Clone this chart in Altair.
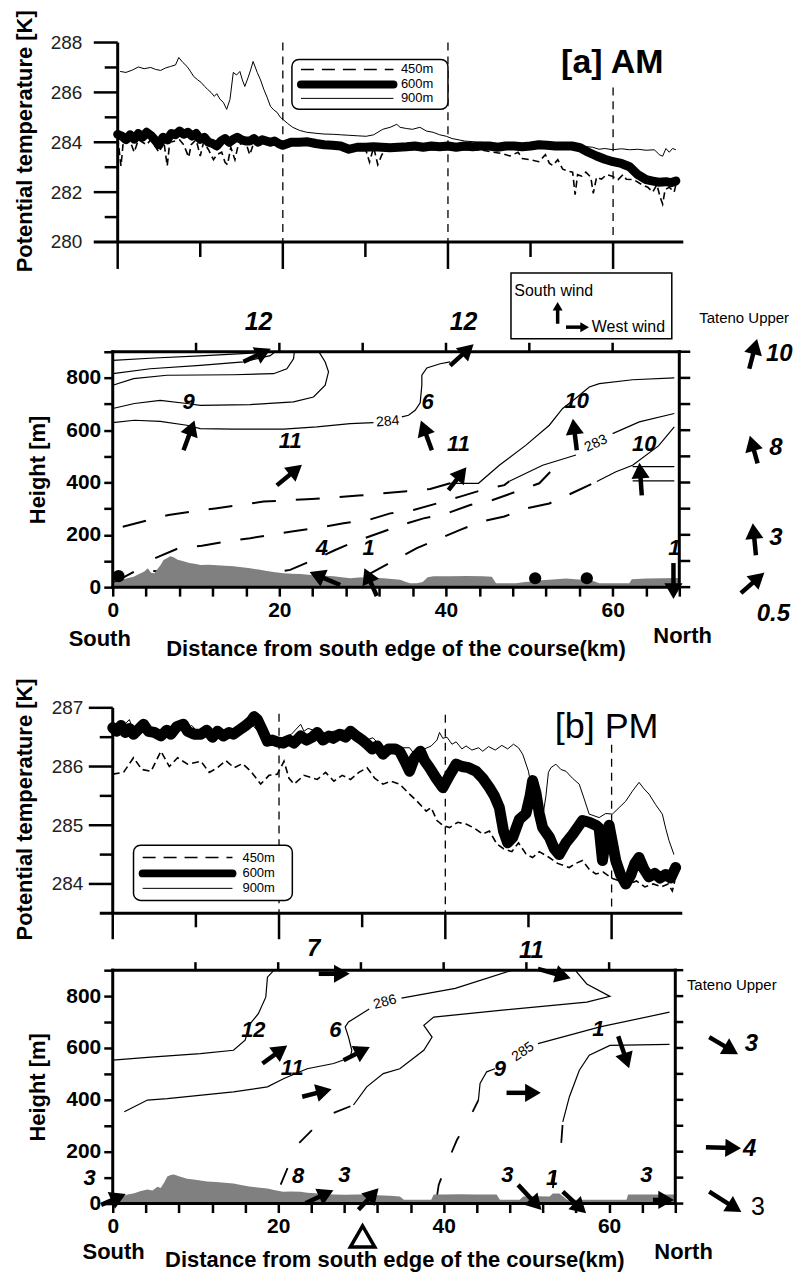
import math
import altair as alt
import pandas as pd

FONT = "Liberation Sans, Arial, Helvetica, sans-serif"

# ---------------- (a) AM : potential temperature along the course (km, K) ----------------
am450 = [(0,284.2),(0.4,283.05),(0.7,284.1),(1.5,284.05),(2.0,283.6),(2.5,284.1),(3.5,283.9),(4.0,284.1),
         (5.0,283.6),(5.6,284.0),(6.0,283.05),(6.3,284.0),(7.5,284.1),(8.0,283.9),(8.6,283.4),(8.9,283.9),
         (9.5,284.1),(10.0,283.45),(10.4,284.0),(11.0,283.7),(11.6,283.3),(12.0,283.5),(12.6,283.6),(13.0,283.2),
         (13.3,283.1),(13.7,283.8),(14.2,283.3),(14.6,283.9),(15.5,284.0),(16.0,283.5),(16.5,284.0),(18,284.0),
         (20,283.9),(22,283.95),(24,283.9),(26,283.85),(28,283.8),(30,283.75),(30.5,283.2),(31.0,283.8),
         (31.5,283.1),(32,283.5),(32.5,283.75),(34,283.75),(36,283.7),(38,283.7),(40,283.7),(42,283.7),
         (44,283.7),(45.5,283.6),(46.5,283.55),(47.5,283.45),(48.5,283.6),(49,283.35),(50,283.3),(51,283.22),
         (51.8,283.5),(52.3,283.15),(52.7,283.07),(53.3,283.3),(53.9,282.92),(54.5,282.85),(55.1,282.8),
         (55.4,281.9),(55.7,282.7),(56.2,282.64),(56.7,282.8),(57.3,282.6),(57.6,281.95),(58.0,282.6),
         (58.6,282.52),(59.2,282.7),(59.9,282.64),(60.6,282.5),(61.2,282.7),(61.6,282.52),(62.5,282.5),
         (63.5,282.3),(64.2,282.2),(64.8,282.0),(65.3,282.3),(65.7,281.8),(66.0,281.52),(66.3,282.1),
         (66.8,282.2),(67.4,282.0),(67.6,282.3)]
am600 = [(0,284.32),(0.5,284.25),(1.0,284.1),(1.5,284.3),(2.0,284.12),(2.5,284.35),(3.0,284.2),(3.5,284.4),
         (4.0,284.28),(4.5,284.1),(5.0,283.9),(5.5,284.2),(6.0,284.1),(6.5,284.35),(7.0,284.3),(7.5,284.45),
         (8.0,284.32),(8.5,284.4),(9.0,284.25),(9.5,284.35),(10.0,284.12),(10.5,284.2),(11.0,284.0),
         (11.5,283.95),(12.0,283.85),(12.5,284.05),(13.0,284.15),(13.5,284.0),(14.0,284.12),(14.5,284.2),
         (15.0,284.1),(15.5,284.05),(16.0,284.05),(16.5,284.15),(17.0,284.0),(17.5,284.1),(18.0,284.05),
         (18.5,284.0),(19.0,284.05),(19.5,283.95),(20.0,283.88),(21,284.0),(22,284.0),(23,284.02),(24,283.95),
         (25,283.9),(26,283.88),(27,283.85),(28,283.72),(29,283.8),(30,283.8),(31,283.82),(32,283.8),
         (33,283.78),(34,283.8),(35,283.82),(36,283.85),(37,283.8),(38,283.85),(39,283.82),(40,283.85),
         (41,283.8),(42,283.85),(43,283.82),(44,283.85),(45,283.85),(46,283.8),(47,283.85),(48,283.85),
         (49,283.82),(50,283.85),(51,283.9),(52,283.88),(53,283.85),(54,283.85),(55,283.85),(56,283.78),
         (57,283.6),(58,283.45),(59,283.32),(60,283.22),(61,283.15),(62,283.02),(63,282.7),(64,282.5),
         (64.7,282.45),(65.5,282.4),(66.4,282.42),(67,282.38),(67.6,282.45)]
am900 = [(0.3,286.84),(1.0,286.8),(1.8,286.9),(2.5,287.02),(3.2,286.95),(4.0,287.0),(4.6,286.92),(5.2,286.88),
         (5.8,286.98),(6.4,287.04),(7.0,287.1),(7.4,287.4),(7.9,287.2),(8.4,287.04),(8.8,286.85),(9.2,286.64),
         (9.7,286.5),(10.1,286.4),(10.5,286.25),(10.9,286.12),(11.3,286.0),(11.7,285.84),(12.0,285.95),
         (12.4,285.72),(12.8,285.6),(13.2,285.32),(13.6,285.72),(14.0,286.8),(14.4,286.7),(14.8,286.84),
         (15.1,286.5),(15.4,286.24),(15.8,286.6),(16.1,286.9),(16.4,287.24),(16.9,286.8),(17.3,286.5),
         (17.7,286.12),(18.1,285.8),(18.5,285.44),(18.9,285.3),(19.3,285.2),(19.7,285.0),(20.0,284.92),
         (20.6,284.75),(21.2,284.6),(22.0,284.48),(22.9,284.4),(24.0,284.36),(25.0,284.33),(26.1,284.32),
         (27.0,284.3),(28.0,284.28),(29.0,284.26),(30.1,284.24),(31.0,284.3),(32.1,284.52),(33.0,284.6),
         (33.8,284.72),(34.2,284.6),(35.0,284.55),(35.7,284.52),(36.6,284.6),(37.4,284.45),(38.2,284.4),
         (39.0,284.3),(39.8,284.24),(40.5,284.15),(42.0,284.05),(44.0,284.0),(46.0,283.95),(48.0,283.95),
         (50.0,283.9),(52.0,283.9),(54.0,283.85),(56.0,283.85),(57.5,283.8),(58.3,283.72),(59.0,283.75),
         (60.0,283.7),(61.0,283.74),(62.0,283.7),(63.0,283.72),(64.0,283.68),(65.0,283.7),(65.6,283.5),
         (66.0,283.44),(66.4,283.75),(66.8,283.6),(67.2,283.75),(67.6,283.7)]

# ---------------- (b) PM : potential temperature along the course (km, K) ----------------
pm450 = [(0,285.87),(1.3,285.9),(2.5,286.15),(3.5,285.95),(4.6,285.92),(5.8,286.26),(6.8,286.0),(7.8,286.15),
         (9.0,286.04),(10.6,286.09),(11.6,285.9),(12.6,285.98),(13.6,286.1),(14.6,285.98),(15.6,286.05),
         (16.6,285.92),(17.8,285.7),(18.8,285.85),(19.8,285.87),(20.6,286.09),(21.2,285.8),(21.8,285.7),
         (23.0,285.85),(24.6,285.78),(25.6,285.9),(26.6,285.75),(27.6,285.85),(28.6,285.78),(29.6,285.9),
         (30.6,285.98),(31.5,285.8),(32.5,285.7),(33.5,285.75),(34.5,285.7),(35.7,285.53),(36.6,285.41),
         (37.7,285.24),(38.3,285.3),(39.0,285.08),(39.7,285.0),(40.5,284.96),(41.5,285.05),(42.5,285.02),
         (43.5,284.95),(44.5,284.85),(45.3,284.9),(46.2,284.68),(47.0,284.6),(48.0,284.55),(48.8,284.7),
         (49.7,284.51),(50.5,284.45),(51.3,284.55),(52.5,284.45),(53.5,284.35),(54.9,284.28),(55.7,284.35),
         (56.5,284.4),(57.3,284.25),(58.1,284.17),(59.0,284.2),(60.0,284.1),(61.0,284.05),(62.0,284.0),
         (63.0,284.05),(64.0,283.95),(65.0,284.0),(66.0,283.95),(66.8,284.0),(67.3,283.88),(67.6,284.05)]
pm600 = [(0,286.66),(0.5,286.6),(1,286.7),(1.5,286.58),(2,286.65),(2.5,286.55),(3,286.62),(3.7,286.72),
         (4.3,286.6),(5,286.58),(5.8,286.52),(6.5,286.62),(7,286.55),(7.7,286.68),(8.5,286.72),(9,286.6),
         (9.8,286.55),(10.6,286.55),(11.3,286.62),(12,286.5),(12.6,286.6),(13.3,286.52),(14,286.58),
         (14.5,286.55),(15.2,286.62),(16,286.7),(16.6,286.77),(17.0,286.85),(17.4,286.8),(18.0,286.62),
         (18.6,286.43),(19.2,286.45),(19.8,286.42),(20.5,286.4),(21.2,286.45),(21.8,286.4),(22.6,286.52),
         (23.3,286.45),(24,286.5),(24.6,286.58),(25.3,286.45),(26,286.52),(26.5,286.48),(27.3,286.55),
         (28,286.5),(28.6,286.6),(29.3,286.52),(30,286.45),(30.6,286.38),(31.2,286.3),(31.8,286.35),
         (32.5,286.21),(33.2,286.3),(34,286.3),(34.5,286.26),(35.1,286.1),(35.7,285.92),(36.3,286.15),
         (37,286.26),(37.5,286.1),(38.1,285.98),(38.9,285.8),(39.7,285.64),(40.5,285.85),(41.3,286.04),
         (42,286.0),(42.8,285.98),(43.7,285.92),(44.5,285.8),(45.3,285.64),(45.9,285.5),(46.5,285.3),
         (47.0,284.9),(47.5,284.7),(48.1,284.79),(48.9,285.1),(49.7,285.2),(50.2,285.5),(50.5,285.76),
         (50.9,285.55),(51.3,285.2),(51.7,284.96),(52.5,284.8),(53.1,284.6),(53.7,284.5),(54.5,284.7),
         (55.3,284.84),(56.0,284.98),(56.5,285.08),(57.3,285.05),(58.1,285.0),(58.5,284.95),(58.9,284.4),
         (59.3,284.8),(59.7,285.0),(60.1,284.7),(60.5,284.4),(61.1,284.15),(61.7,284.0),(62.3,284.15),
         (62.8,284.35),(63.3,284.45),(63.9,284.25),(64.5,284.12),(65.2,284.18),(65.8,284.1),(66.5,284.16),
         (67.1,284.1),(67.7,284.28)]
pm900 = [(0,286.7),(1,286.65),(2,286.8),(2.5,286.6),(3.5,286.75),(4.5,286.6),(5.5,286.55),(6.5,286.7),
         (7.5,286.65),(8.5,286.6),(9.5,286.7),(10.5,286.55),(11.5,286.6),(12.5,286.65),(13.5,286.55),
         (14.5,286.6),(15.5,286.7),(16.5,286.75),(17.5,286.6),(18.5,286.5),(19.5,286.45),(20.5,286.5),
         (21.5,286.55),(22.6,286.72),(23.0,286.6),(23.5,286.65),(24.5,286.6),(25.5,286.55),(26.5,286.6),
         (27.7,286.62),(28.5,286.6),(29.5,286.55),(30.5,286.45),(31.3,286.49),(32.5,286.3),(33.5,286.3),
         (34.5,286.32),(35.7,286.32),(36.6,286.15),(37.5,286.3),(38.3,286.35),(39.0,286.45),(39.3,286.58),
         (39.7,286.48),(40.2,286.5),(40.8,286.38),(41.3,286.42),(42.0,286.3),(42.5,286.35),(43.2,286.28),
         (44.0,286.32),(44.5,286.26),(45.2,286.34),(46.0,286.28),(46.8,286.36),(47.5,286.3),(48.2,286.38),
         (48.8,286.32),(49.3,286.21),(50.0,285.92),(50.5,285.53),(51.1,285.2),(51.7,285.13),(52.1,285.5),
         (52.4,285.9),(52.7,285.98),(53.3,286.04),(53.9,285.95),(54.5,285.92),(55.3,285.8),(56.1,285.7),
         (56.7,285.45),(57.3,285.19),(58.5,285.13),(59.3,285.2),(60.1,285.19),(60.9,285.3),(61.7,285.41),
         (62.5,285.58),(63.3,285.73),(63.9,285.62),(64.5,285.53),(65.3,285.35),(66.1,285.19),(66.5,284.95),
         (66.9,284.74),(67.5,284.5)]

# ---------------- terrain along the course (km, m) ----------------
terrain_am = [(0,15),(0.8,25),(1.75,34),(2.5,40),(3.35,53),(3.8,60),(4.2,72),(4.6,55),(5.0,53),(5.4,70),
              (5.75,85),(6.1,104),(6.5,110),(6.9,118),(7.3,114),(7.8,105),(8.5,99),(9.2,92),(10.0,88),
              (10.5,85),(11.5,86),(12.5,84),(13.5,82),(14.5,80),(15.5,76),(16.5,72),(17.5,67),(18.5,62),
              (19.5,57),(20.5,53),(21.5,51),(22.5,50),(23.5,47),(24.5,45),(25.5,44),(26.5,42),(27.5,38),
              (28.5,34),(29.5,37),(30.5,38),(31.5,36),(32.5,34),(33.5,31),(34.5,28),(35.2,20),(35.7,15),
              (36.5,15),(37.2,20),(37.8,38),(38.5,42),(40.5,42),(42.5,43),(44.4,42),(45.5,40),(46.0,15),
              (48.4,15),(49.5,20),(50.4,22),(51.5,26),(52.4,28),(54.4,33),(55.5,30),(56.4,28),(57.5,25),
              (58.4,15),(62,15),(62.3,30),(64,33),(66,34),(68,35)]
terrain_pm = [(0,12),(0.4,15),(1.0,25),(1.8,35),(2.6,40),(3.4,48),(4.2,54),(4.8,50),(5.4,65),(5.8,60),
              (6.2,80),(6.6,104),(7.0,110),(7.4,112),(8.0,105),(9.0,96),(10.0,92),(11.4,85),(12.5,83),
              (13.5,80),(14.6,77),(15.5,72),(16.5,66),(17.5,62),(18.7,58),(19.5,52),(20.6,46),(21.5,47),
              (22.7,46),(23.5,42),(24.5,40),(25.5,37),(26.7,35),(28.0,34),(29.5,35),(30.7,35),(32,32),
              (33.5,30),(34.7,27),(35.2,15),(38.5,15),(38.8,35),(40,35),(42,36),(44,35),(46.4,35),(46.8,15),
              (49.2,15),(49.6,27),(51,28),(52.8,27),(53.2,39),(54,39),(54.9,15),(62.1,15),(62.3,35),(68,35)]

# ---------------- isentropes (km, m) ----------------
am_solid = [
    [(0,867),(5,876),(10.5,884),(15,892),(18.9,899),(19.2,900)],
    [(0,816),(4.5,835),(10.5,848),(15.7,861),(18.9,885),(19.5,900)],
    [(0,772),(2.5,797),(6.5,810),(14.5,812),(19.3,816),(20.9,835),(21.7,873),(21.8,900)],
    [(0,683),(2.6,702),(5.7,714),(8.9,702),(10.5,695),(16.5,698),(21.7,708),(24.1,727),(25.5,772),
     (25.9,823),(25.5,861),(24.9,892),(24.7,900)],
    [(0,629),(2.6,638),(5.7,634),(8.9,619),(10.5,606),(14.5,604),(20.5,604),(24.5,613),(28.5,625),(31.3,629)],
    [(34.7,651),(35.5,657),(36.3,676),(36.9,705),(37.1,772),(37.1,810),(37.7,838),(39.3,854),(40.5,861)],
    [(40.5,397),(43.9,397),(46.4,466),(49.6,543),(52.4,619),(54,683),(55.5,720),(57.2,765),(58.4,778),
     (62.4,793),(67.4,800)],
    [(47.6,405),(51.6,466),(55.6,505)],
    [(60,587),(63.2,632),(67.4,664)],
    [(58.1,404),(60.4,441),(62.4,466),(65.5,540),(67.4,613)],
    [(62.4,461),(67.4,461)],
    [(62.4,406),(67.4,406)],
]
am_dashed = [
    [(1.2,231),(6.7,276),(12.3,301),(18.1,327),(23.9,337),(29.5,350),(35.3,367),(38.1,375),(40.5,397)],
    [(5.1,111),(7.9,149),(10.7,158),(13.5,174),(16.5,187),(19.3,202),(21.9,215),(24.9,228),(27.7,244),
     (30.7,257),(33.3,282),(36.1,295),(38.9,320),(41.7,346),(44.3,371),(47.0,390),(47.6,405)],
    [(0,15),(2.9,65),(6,60),(12,55),(18,50),(21.3,66),(24.1,104),(26.7,142),(29.3,177),(31.9,206),
     (34.7,238),(37.3,263),(40.1,282),(42.9,314),(45.6,333),(48.4,365),(51.2,397),(52.5,440)],
    [(30.5,45),(33.9,104),(36.5,149),(38.9,181),(41.7,219),(44.3,251),(47.0,270),(49.6,301),(52.4,320),
     (55.1,359),(58.1,404)],
]
pm_solid = [
    [(0,553),(4.6,565),(10.6,578),(14.6,591),(16,630),(16.6,693),(17.6,732),(18.5,796),(18.7,873),(19.5,900)],
    [(1.4,354),(4.2,399),(6.6,405),(14.6,431),(18.7,450),(20.7,482),(23.5,520),(26.7,540),(28.7,563),
     (28.9,591),(28.5,642),(28.1,681),(28.5,700),(31.0,750)],
    [(34.9,792),(41.4,830),(48.3,900)],
    [(29.1,380),(30.7,450),(32.7,501),(34.7,520),(37.6,591),(38.6,642),(37.6,687),(38.8,719),(46.8,745),
     (57.3,777),(60.1,799),(57.3,847),(56.1,892),(56,900)],
    [(44.2,399),(44.4,463),(45.2,508),(46.2,520)],
    [(51.4,617),(58.9,681),(67.3,738)],
    [(54.4,315),(55.2,412),(56.4,514),(57.6,572),(60.1,610),(67.3,614)],
]
pm_dashed = [
    [(20.3,73),(21.3,150),(22.3,226),(24.3,290),(26.5,347),(29.1,380)],
    [(39.2,30),(39.4,72),(40.4,155),(41.6,245),(43,322),(44.2,399)],
    [(53.2,60),(53.6,142),(54.2,227),(54.4,315)],
]

# ---------------- wind vectors: tail (km, m) -> head (km, m) ----------------
am_wind = [(15.7,862,19.2,915),(8.5,523,9.9,645),(19.7,389,22.9,473),(27.3,8,23.4,61),(31.7,-34,30.1,80),
           (38.3,523,36.9,645),(40.3,371,42.6,465),(40.5,847,43.5,934),(55.7,523,55.2,652),
           (63.5,351,63.2,484),(67.3,92,67.3,-53)]
am_tateno = [(76.4,835,77.4,957),(77.4,473,76.4,587),(77.2,122,76.8,252),(75.4,-23,78.4,61)]
pm_wind = [(24.9,886,28.9,886),(18.1,540,21.3,614),(27.9,553,31.3,607),(22.9,412,26.7,443),(23.3,1,26.9,55),
           (29.7,-24,32.3,65),(-1.4,-5,1.8,40),(51.4,905,55.6,867),(47.6,427,52.0,427),(61.1,645,62.5,514),
           (49.0,72,52.0,-31),(54.4,46,57.4,-43),(65.3,14,68.1,14)]
pm_tateno = [(72.1,642,75.8,572),(71.7,217,76.2,213),(72.1,46,76.2,-37)]

# wind speed labels (text, km, m)
am_speed = [("12",17.5,1015),("9",9.1,709),("11",21.3,557),("4",25.1,149),("1",30.7,149),("6",37.8,709),
            ("11",41.5,549),("12",42.1,1015),("10",55.7,713),("10",63.8,549),("1",67.4,149)]
am_tateno_speed = [("10",80.0,892),("8",79.6,530),("3",79.6,187),("0.5",79.3,-103)]
pm_speed = [("7",24.3,980),("11",50.6,975),("12",17.0,670),("6",26.9,668),("11",21.7,524),("8",22.4,108),
            ("3",28.0,110),("3",-2.8,100),("9",46.8,517),("1",58.7,674),("3",47.7,110),("1",53.1,97),
            ("3",64.5,110)]
pm_tateno_speed = [("3",77.2,614),("4",77.0,210)]
am_isen_labels = [("284",33.0,633,355),("283",58.0,549,335)]
pm_isen_labels = [("286",32.9,777,345),("285",49.6,585,325)]
am_dots = [(0.7,42),(50.7,34),(56.9,34)]


class Panel:
    def __init__(self, xdom, ydom, w, h, xaxis=None, yaxis=None):
        self.w, self.h = w, h
        self.sx = w / (xdom[1] - xdom[0])
        self.sy = h / (ydom[1] - ydom[0])
        self.xs = alt.Scale(domain=list(xdom), nice=False, zero=False)
        self.ys = alt.Scale(domain=list(ydom), nice=False, zero=False)
        self.xaxis, self.yaxis = xaxis, yaxis
        self.layers = []

    def X(self):
        return alt.X("x:Q", scale=self.xs, axis=self.xaxis)

    def Y(self):
        return alt.Y("y:Q", scale=self.ys, axis=self.yaxis)

    def lines(self, polys, **mk):
        rows = [dict(g=g, i=i, x=x, y=y) for g, pts in enumerate(polys) for i, (x, y) in enumerate(pts)]
        self.layers.append(alt.Chart(pd.DataFrame(rows)).mark_line(color="black", **mk)
                           .encode(x=self.X(), y=self.Y(), detail="g:N", order="i:Q"))

    def rules(self, segs, **mk):
        df = pd.DataFrame(segs, columns=["x", "y", "x2", "y2"])
        self.layers.append(alt.Chart(df).mark_rule(color="black", **mk)
                           .encode(x=self.X(), y=self.Y(), x2="x2:Q", y2="y2:Q"))

    def texts(self, rows, **mk):
        df = pd.DataFrame(rows, columns=["t", "x", "y", "fs", "ang"])
        self.layers.append(alt.Chart(df).mark_text(font=FONT, color="black", **mk)
                           .encode(x=self.X(), y=self.Y(), text="t:N",
                                   size=alt.Size("fs:Q", scale=None),
                                   angle=alt.Angle("ang:Q", scale=None)))

    def area(self, pts, **mk):
        df = pd.DataFrame(pts, columns=["x", "y"])
        df["b"] = 0
        self.layers.append(alt.Chart(df).mark_area(**mk).encode(x=self.X(), y=self.Y(), y2="b:Q"))

    def points(self, pts, **mk):
        df = pd.DataFrame(pts, columns=["x", "y"])
        self.layers.append(alt.Chart(df).mark_point(opacity=1, **mk).encode(x=self.X(), y=self.Y()))

    def rect(self, x, x2, y, y2, **mk):
        df = pd.DataFrame([dict(x=x, x2=x2, y=y, y2=y2)])
        self.layers.append(alt.Chart(df).mark_rect(**mk).encode(x=self.X(), x2="x2:Q", y=self.Y(), y2="y2:Q"))

    def arrows(self, arrs, shaft=4.5, head=330):
        tip = 0.55 * math.sqrt(head)
        segs, heads = [], []
        for (x0, y0, x1, y1) in arrs:
            dx = (x1 - x0) * self.sx
            dy = -(y1 - y0) * self.sy
            L = math.hypot(dx, dy)
            ux, uy = dx / L, dy / L
            cx = x1 - ux * tip / self.sx
            cy = y1 + uy * tip / self.sy
            segs.append((x0, y0, cx, cy))
            heads.append(dict(x=cx, y=cy, ang=math.degrees(math.atan2(ux, -uy)) % 360))
        self.rules(segs, strokeWidth=shaft)
        self.layers.append(alt.Chart(pd.DataFrame(heads))
                           .mark_point(shape="triangle-up", filled=True, color="black", size=head, opacity=1)
                           .encode(x=self.X(), y=self.Y(), angle=alt.Angle("ang:Q", scale=None)))

    def chart(self):
        return alt.layer(*self.layers).properties(width=self.w, height=self.h)


def temp_axis(values, pad):
    return alt.Axis(values=values, ticks=False, tickSize=0, domain=False, grid=False, labelFontSize=19,
                    labelColor="#222", labelPadding=pad, title=None, labelFont=FONT, labelFlush=False,
                    labelOverlap=False)


def sect_axes():
    xa = alt.Axis(values=list(range(0, 69, 4)), labelExpr="datum.value % 20 == 0 ? datum.label : ''",
                  tickSize=9, tickWidth=2.5, tickColor="black", domain=False, grid=False, labelFont=FONT,
                  labelFontSize=21, labelFontWeight="bold", labelColor="black", labelPadding=3, title=None,
                  labelFlush=False, labelOverlap=False)
    ya = alt.Axis(values=list(range(0, 901, 100)), labelExpr="datum.value % 200 == 0 ? datum.label : ''",
                  tickSize=9, tickWidth=2.5, tickColor="black", domain=False, grid=False, labelFont=FONT,
                  labelFontSize=21, labelFontWeight="bold", labelColor="black", labelPadding=3,
                  title="Height [m]", titleFont=FONT, titleFontSize=22, titleFontWeight="bold",
                  titleColor="black", titlePadding=16, labelFlush=False, labelOverlap=False)
    return xa, ya


def temp_panel(P, d450, d600, d900, top, bottom, xmin, vdash, yt_major, yt_minor, xlen_major, xlen_minor,
               legend, label, label_pos, label_kw, ytitle_pos, thick):
    ymaj = 24 / P.sx
    ymin = 13 / P.sx
    P.rules([(v, t, v, bottom) for v, t in vdash], strokeWidth=1.3, strokeDash=[8, 6])
    P.lines([d450], strokeWidth=1.6, strokeDash=[7, 4])
    P.lines([d900], strokeWidth=1.0)
    P.lines([d600], strokeWidth=thick, strokeCap="round", strokeJoin="round")
    P.rules([(0, bottom, 0, top)], strokeWidth=3)
    P.rules([(xmin, bottom, 68.5, bottom)], strokeWidth=3)
    P.rules([(-ymaj, v, 0, v) for v in yt_major], strokeWidth=2.5)
    P.rules([(-ymin, v, 0, v) for v in yt_minor], strokeWidth=2.5)
    P.rules([(v, bottom, v, bottom - xlen_major / P.sy) for v in (0, 20, 40, 60)], strokeWidth=2.5)
    P.rules([(v, bottom, v, bottom - xlen_minor / P.sy) for v in (10, 30, 50)], strokeWidth=2.5)
    (bx0, bx1, by0, by1, lx0, lx1, lxt, ly) = legend
    P.rect(bx0, bx1, by0, by1, fill="white", stroke="black", strokeWidth=1.5, cornerRadius=7)
    P.lines([[(lx0, ly[0]), (lx1, ly[0])]], strokeWidth=1.6, strokeDash=[13, 8])
    P.lines([[(lx0, ly[1]), (lx1, ly[1])]], strokeWidth=8, strokeCap="round")
    P.lines([[(lx0, ly[2]), (lx1, ly[2])]], strokeWidth=1.0)
    P.texts([("450m", lxt, ly[0], 13, 0), ("600m", lxt, ly[1], 13, 0), ("900m", lxt, ly[2], 13, 0)],
            align="left")
    P.texts([(label, label_pos[0], label_pos[1], label_kw.pop("fs"), 0)], baseline="alphabetic", **label_kw)
    P.texts([("Potential temperature [K]", ytitle_pos[0], ytitle_pos[1], 22, 270)], fontWeight="bold")
    return P.chart()


# ---------------- panel 1: AM temperature ----------------
P1 = Panel((-0.6, 68.5), (277.88, 288.0), 572, 253, yaxis=temp_axis([280, 282, 284, 286, 288], 31))
c1 = temp_panel(P1, am450, am600, am900, 288, 280, -2.9, [(20, 288), (40, 288), (60, 286.2)],
                [282, 284, 286, 288], [281, 283, 285, 287], 27, 15,
                (21.1, 40.0, 287.32, 285.32, 22.2, 33.4, 34.3, (286.92, 286.32, 285.76)),
                "[a] AM", (59.9, 286.76), dict(fs=34, fontWeight="bold"), (-11.23, 284.04), 9)

# ---------------- panel 2: AM cross-section ----------------
xa, ya = sect_axes()
P2 = Panel((0, 68), (0, 900), 568, 236, xaxis=xa, yaxis=ya)
P2.lines(am_dashed, strokeWidth=2, strokeDash=[24, 20])
P2.lines(am_solid, strokeWidth=1.2)
P2.area(terrain_am, color="#808080")
P2.points(am_dots, shape="circle", filled=True, color="black", size=150)
P2.arrows(am_wind)
P2.arrows(am_tateno)
P2.texts([(t, x, y, 25 if y > 900 else 22, 0) for t, x, y in am_speed], fontWeight="bold", fontStyle="italic")
P2.texts([(t, x, y, 24, 0) for t, x, y in am_tateno_speed], fontWeight="bold", fontStyle="italic")
P2.texts([(t, x, y, 14, a) for t, x, y, a in am_isen_labels])
P2.rules([(0, 0, 68, 0), (0, 900, 68, 900), (0, 0, 0, 900), (68, 0, 68, 900)], strokeWidth=3, strokeCap="square")
P2.rules([(v, 900, v, 900 + 9 / P2.sy) for v in range(10, 61, 10)], strokeWidth=2.5)
P2.rules([(68, v, 68 + 11 / P2.sx, v) for v in range(0, 901, 100)], strokeWidth=2.5)
P2.rect(47.8, 67.1, 950, 1201, fill="white", stroke="black", strokeWidth=1.5)
P2.arrows([(53.4, 1007, 53.4, 1095), (54.4, 994, 57.3, 994)], shaft=3.5, head=100)
P2.texts([("South wind", 48.2, 1114, 16, 0), ("West wind", 57.5, 976, 16, 0)], align="left", baseline="alphabetic")
P2.texts([("Tateno Upper", 70.4, 1011, 15, 0)], align="left", baseline="alphabetic")
P2.texts([("South", -1.56, -225, 22, 0), ("Distance from south edge of the course(km)", 34.0, -263, 22, 0),
          ("North", 68.4, -214, 22, 0)], fontWeight="bold", baseline="alphabetic")
c2 = P2.chart()

# ---------------- panel 3: PM temperature ----------------
P3 = Panel((0, 68.5), (283.5, 288.087), 571, 270, yaxis=temp_axis([284, 285, 286, 287], 30))
c3 = temp_panel(P3, pm450, pm600, pm900, 287, 283.5, -1.56, [(20, 286.9), (40, 286.88), (60, 286.37)],
                [284, 285, 286, 287], [284.5, 285.5, 286.5], 26, 14,
                (2.5, 21.6, 284.66, 283.72, 3.6, 14.4, 15.6, (284.45, 284.18, 283.925)),
                "[b] PM", (59.4, 286.49), dict(fs=36), (-10.56, 285.27), 11)

# ---------------- panel 4: PM cross-section ----------------
xa, ya = sect_axes()
P4 = Panel((0, 68), (0, 900), 564, 234, xaxis=xa, yaxis=ya)
P4.lines(pm_dashed, strokeWidth=1.8, strokeDash=[18, 28])
P4.lines(pm_solid, strokeWidth=1.2)
P4.area(terrain_pm, color="#808080")
P4.arrows(pm_wind)
P4.arrows(pm_tateno)
P4.texts([(t, x, y, 24 if y > 900 else 22, 0) for t, x, y in pm_speed], fontWeight="bold", fontStyle="italic")
P4.texts([(t, x, y, 24, 0) for t, x, y in pm_tateno_speed], fontWeight="bold", fontStyle="italic")
P4.texts([("3", 78.0, -12, 25, 0)])
P4.texts([(t, x, y, 14, a) for t, x, y, a in pm_isen_labels])
P4.rules([(0, 0, 68, 0), (0, 900, 68, 900), (0, 0, 0, 900), (68, 0, 68, 900)], strokeWidth=3, strokeCap="square")
P4.rules([(v, 900, v, 900 + 8 / P4.sy) for v in range(10, 61, 10)], strokeWidth=2.5)
P4.rules([(68, v, 68 + 8 / P4.sx, v) for v in range(0, 901, 100)], strokeWidth=2.5)
P4.texts([("Tateno Upper", 69.4, 823, 15, 0)], align="left", baseline="alphabetic")
P4.points([(30.2, -127)], shape="triangle-up", filled=False, fill="white", stroke="black", strokeWidth=3.5,
          size=600)
P4.texts([("South", 0.1, -212, 22, 0), ("Distance from south edge of the course(km)", 34.1, -246, 22, 0),
          ("North", 69.0, -212, 22, 0)], fontWeight="bold", baseline="alphabetic")
c4 = P4.chart()

chart = (
    alt.vconcat(c1, c2, c3, c4, spacing=57, bounds="flush")
    .properties(padding={"left": 5, "top": 0, "right": 0, "bottom": 0}, background="white")
    .configure_view(stroke=None)
    .configure_axis(labelFont=FONT, titleFont=FONT)
)

chart.save("out.html", embed_options={"renderer": "svg", "actions": False})
